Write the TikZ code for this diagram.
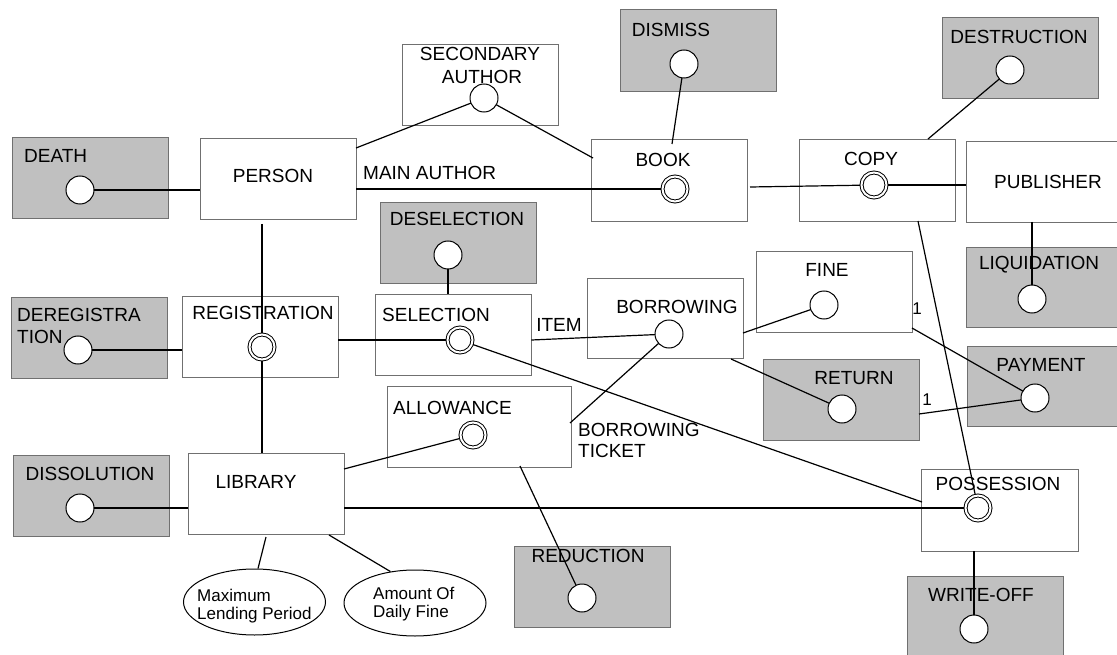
\documentclass[tikz,border=0pt]{standalone}
\usepackage{fontspec}
\setmainfont{Liberation Sans}
\usetikzlibrary{shapes.geometric}
\definecolor{boxline}{HTML}{707070}
\definecolor{evgray}{HTML}{C0C0C0}
\begin{document}
\begin{tikzpicture}[x=1pt,y=-1pt,
  box/.style={draw=boxline, line width=0.9pt, minimum width=156pt, minimum height=81pt, inner sep=0pt, fill=white},
  event/.style={box, fill=evgray},
  lbl/.style={font=\fontsize{19}{22}\selectfont, inner sep=0pt},
  small/.style={font=\fontsize{17}{20}\selectfont, inner sep=0pt},
  dot/.style={circle, draw, fill=white, line width=1pt, minimum size=28pt, inner sep=0pt},
  ddot/.style={circle, draw, double, double distance=2pt, line width=1pt, fill=white, minimum size=25pt, inner sep=0pt, outer sep=1.5pt},
  link/.style={line width=1.2pt},
  attr/.style={ellipse, draw, line width=1pt, fill=white, minimum width=142pt, minimum height=66pt, inner sep=0pt}
]
\useasboundingbox (0,0) rectangle (1117,655);
\clip (0,0) rectangle (1117,655);

% ---- entity and event boxes ----
\node[event] (death) at (90.5,177.5) {};
\node[box] (person) at (278,178.5) {};
\node[box] (secauth) at (480.5,84.5) {};
\node[box, minimum height=82pt] (book) at (669.5,180) {};
\node[event, minimum height=82pt] (dismiss) at (698.5,50) {};
\node[box, minimum height=82pt] (copy) at (877,180) {};
\node[box] (publisher) at (1044,181.5) {};
\node[event] (destruction) at (1020,57.5) {};
\node[event] (deselection) at (458,242.5) {};
\node[event] (dereg) at (89,337.5) {};
\node[box] (registration) at (260,336.5) {};
\node[box] (selection) at (453,334.5) {};
\node[box, minimum height=80pt] (borrowing) at (665,318) {};
\node[box] (fine) at (834,291.5) {};
\node[event, minimum height=80pt] (liquidation) at (1044,287) {};
\node[event, minimum height=80pt] (payment) at (1045,386) {};
\node[event] (return) at (841.5,399.5) {};
\node[box, minimum width=184pt] (allowance) at (479,426.5) {};
\node[event] (dissolution) at (91,495.5) {};
\node[box] (library) at (266,493.5) {};
\node[event] (reduction) at (592.5,586.5) {};
\node[box, minimum width=157pt, minimum height=82pt] (possession) at (999.5,510) {};
\node[event] (writeoff) at (985,616.5) {};

% ---- attributes ----
\node[attr] (ell1) at (254.5,602) {};
\node[attr] (ell2) at (415,603) {};

% ---- texts ----
\node[lbl, anchor=west] (t-death) at (24,156) {DEATH};
\node[lbl] (t-person) at (273,176) {PERSON};
\node[lbl] (t-sec1) at (480,54) {SECONDARY};
\node[lbl] (t-sec2) at (482,77) {AUTHOR};
\node[lbl, anchor=west] (t-main) at (363,173) {MAIN AUTHOR};
\node[lbl] (t-book) at (663,160) {BOOK};
\node[lbl] (t-dismiss) at (671,30) {DISMISS};
\node[lbl] (t-copy) at (871,159) {COPY};
\node[lbl] (t-pub) at (1048,182) {PUBLISHER};
\node[lbl] (t-dest) at (1019,37) {DESTRUCTION};
\node[lbl] (t-desel) at (457,219) {DESELECTION};
\node[lbl, anchor=west] (t-dereg1) at (17,315) {DEREGISTRA};
\node[lbl, anchor=west] (t-dereg2) at (17,337) {TION};
\node[lbl] (t-reg) at (263,313) {REGISTRATION};
\node[lbl] (t-sel) at (436,315) {SELECTION};
\node[lbl] (t-item) at (559,325) {ITEM};
\node[lbl] (t-bor) at (677,307) {BORROWING};
\node[lbl, anchor=west] (t-allow) at (393,408) {ALLOWANCE};
\node[lbl, anchor=west] (t-ticket1) at (578,430) {BORROWING};
\node[lbl, anchor=west] (t-ticket2) at (578,451) {TICKET};
\node[lbl] (t-fine) at (827,270) {FINE};
\node[small] (t-one1) at (917,309) {1};
\node[lbl] (t-liq) at (1039,265) {LIQUIDATION};
\node[lbl] (t-ret) at (854,378) {RETURN};
\node[small] (t-one2) at (927,400) {1};
\node[lbl] (t-pay) at (1041,365) {PAYMENT};
\node[lbl] (t-diss) at (90,474) {DISSOLUTION};
\node[lbl] (t-lib) at (256,482) {LIBRARY};
\node[small, anchor=base west] (t-max1) at (197,601) {Maximum};
\node[small, anchor=base west] (t-max2) at (197,619) {Lending Period};
\node[small, anchor=base west] (t-amt1) at (373,599) {Amount Of};
\node[small, anchor=base west] (t-amt2) at (373,617) {Daily Fine};
\node[lbl] (t-red) at (588,556) {REDUCTION};
\node[lbl] (t-poss) at (998,484) {POSSESSION};
\node[lbl] (t-wo) at (981,595) {WRITE-OFF};

% ---- connector end points on box borders ----
\coordinate (a1) at (356,148);
\coordinate (a2) at (593,158);
\coordinate (a3) at (672,144);
\coordinate (a4) at (750,187);
\coordinate (a5) at (928,139);
\coordinate (a6) at (918,221);
\coordinate (a7) at (1032,222);
\coordinate (a8) at (262,224);
\coordinate (a9) at (570,423);
\coordinate (a10) at (743,333);
\coordinate (a11) at (731,359);
\coordinate (a12) at (922,502);
\coordinate (a13) at (912,328);
\coordinate (a14) at (919,414);
\coordinate (a15) at (344,469);
\coordinate (a16) at (520,466);
\coordinate (a17) at (266,537);
\coordinate (a18) at (329,535);

% ---- circles (placed as coordinates first, drawn last) ----
\coordinate (death-c) at (80,190);
\coordinate (sec-c) at (484,98);
\coordinate (book-c) at (675,189);
\coordinate (dismiss-c) at (684,64);
\coordinate (copy-c) at (874,185);
\coordinate (dest-c) at (1010,70);
\coordinate (desel-c) at (448,255);
\coordinate (dereg-c) at (78,350);
\coordinate (reg-c) at (262,347);
\coordinate (sel-c) at (460,340);
\coordinate (bor-c) at (669,334);
\coordinate (fine-c) at (824,305);
\coordinate (liq-c) at (1032,299);
\coordinate (pay-c) at (1035,398);
\coordinate (ret-c) at (842,409);
\coordinate (allow-c) at (473,435);
\coordinate (diss-c) at (80,508);
\coordinate (red-c) at (582,598);
\coordinate (poss-c) at (978,508);
\coordinate (wo-c) at (974,629);

% ---- connectors ----
\begin{scope}[link]
\draw (death-c) -- (person.west |- death-c);
\draw (a1) -- (sec-c);
\draw (sec-c) -- (a2);
\draw (person.east |- book-c) -- (book-c);
\draw (dismiss-c) -- (a3);
\draw (a4) -- (copy-c);
\draw (copy-c) -- (publisher.west |- copy-c);
\draw (dest-c) -- (a5);
\draw (a6) -- (poss-c);
\draw (a7) -- (liq-c);
\draw (desel-c) -- (selection.north -| desel-c);
\draw (dereg-c) -- (registration.west |- dereg-c);
\draw (a8) -- (reg-c);
\draw (reg-c) -- (library.north -| reg-c);
\draw (registration.east |- sel-c) -- (sel-c);
\draw (selection.east |- sel-c) -- (bor-c);
\draw (bor-c) -- (a9);
\draw (a10) -- (fine-c);
\draw (a11) -- (ret-c);
\draw (sel-c) -- (a12);
\draw (a13) -- (pay-c);
\draw (a14) -- (pay-c);
\draw (a15) -- (allow-c);
\draw (diss-c) -- (library.west |- diss-c);
\draw (library.east |- poss-c) -- (poss-c);
\draw (a16) -- (red-c);
\draw (a17) -- (ell1.84);
\draw (a18) -- (ell2.128);
\draw (possession.south -| wo-c) -- (wo-c);
\end{scope}

% ---- event and state circles on top ----
\foreach \c in {death-c, sec-c, dismiss-c, dest-c, desel-c, dereg-c, bor-c, fine-c, liq-c, pay-c, ret-c, diss-c, red-c, wo-c}
  \node[dot] at (\c) {};
\foreach \c in {book-c, copy-c, reg-c, sel-c, allow-c, poss-c}
  \node[ddot] at (\c) {};
\end{tikzpicture}
\end{document}
